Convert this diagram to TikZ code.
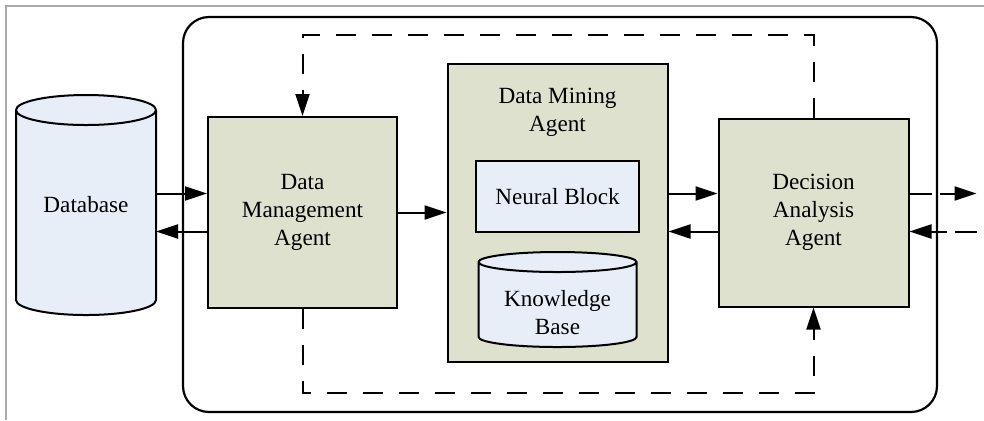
\documentclass[tikz,border=0pt]{standalone}
\usepackage{fontspec}
\setmainfont{Liberation Serif}
\usepackage{tikz}
\usetikzlibrary{arrows.meta,calc,positioning}

\definecolor{agentfill}{RGB}{221,225,205}
\definecolor{storefill}{RGB}{231,238,248}
\definecolor{framegray}{RGB}{170,170,170}

\begin{document}
\begin{tikzpicture}[%
    x=0.5pt, y=-0.5pt,
    >={Triangle[length=11pt,width=7pt]},
    node distance=127.5pt,
    on grid,
    font=\fontsize{11.6}{14}\selectfont,
    agent/.style={draw, line width=1pt, fill=agentfill, inner sep=0pt, align=center},
    block/.style={draw, line width=1pt, fill=storefill, inner sep=0pt, align=center},
    store/.style={inner sep=0pt, outer sep=-1pt, align=center,
      path picture={
        \draw[line width=1pt, fill=storefill]
          let \p1=(path picture bounding box.north west),
              \p2=(path picture bounding box.south east),
              \n1={(\x2-\x1)/2-1pt} in
          (\x1+1pt,\y1-#1-1pt) -- (\x1+1pt,\y2+#1+1pt)
          arc[start angle=180, end angle=360, x radius=\n1, y radius=#1]
          -- (\x2-1pt,\y1-#1-1pt)
          arc[start angle=0, end angle=180, x radius=\n1, y radius=#1] -- cycle
          (\x1+1pt,\y1-#1-1pt)
          arc[start angle=180, end angle=360, x radius=\n1, y radius=#1];
      }},
    flow/.style={line width=1pt},
    feedback/.style={line width=1pt, dash pattern=on 10pt off 8pt},
    outflow/.style={line width=1pt, dash pattern=on 11pt off 4pt}
  ]
    \useasboundingbox (0,0) rectangle (984,420);
    \draw[framegray, line width=1pt] (984,6) -- (6,6) -- (6,420);
    \draw[line width=1.1pt, rounded corners=13pt] (183,17) rectangle (937,412);

    \node[agent, minimum width=94.5pt, minimum height=95.5pt] (dma) at (302.5,212.5) {Data\\Management\\Agent};
    \node[agent, minimum width=110pt, minimum height=149pt, right=of dma] (dm) {};
    \node[align=center, below=9.25pt of dm.north] (dmtitle) {Data Mining\\Agent};
    \node[block, minimum width=81.5pt, minimum height=35.5pt, below=48.75pt of dm.north] (nb) {Neural Block};
    \node[store=5pt, minimum width=81pt, minimum height=49.5pt, below=51.5pt of nb] (kb) {\rule{0pt}{21.5pt}Knowledge\\Base};
    \node[agent, minimum width=95pt, minimum height=94pt, right=128pt of dm] (daa) {Decision\\Analysis\\Agent};
    \node[store=7.5pt, minimum width=72pt, minimum height=112pt, left=108.25pt of dma, yshift=3.75pt] (db) {Database};

    \coordinate (out) at ([xshift=33.5pt,yshift=9.5pt]daa.east);
    \coordinate (in) at ([xshift=33.5pt,yshift=-9.5pt]daa.east);
    \coordinate (fbtop) at (0,35);
    \coordinate (fbbot) at (0,393);

    \draw[flow, ->] ([yshift=9.5pt]dma.west -| db.east) -- ([yshift=9.5pt]dma.west);
    \draw[flow, ->] ([yshift=-9.5pt]dma.west) -- ([yshift=-9.5pt]dma.west -| db.east);
    \draw[flow, ->] (dma) -- (dm);
    \draw[flow, ->] ([yshift=9.5pt]dm.east) -- ([yshift=9.5pt]daa.west);
    \draw[flow, ->] ([yshift=-9.5pt]daa.west) -- ([yshift=-9.5pt]dm.east);
    \draw[outflow, ->] ([yshift=9.5pt]daa.east) -- (out);
    \draw[outflow, ->] (in) -- ([yshift=-9.5pt]daa.east);

    \draw[feedback, ->] (daa.north) -- (daa.north |- fbtop) -| (dma.north);
    \draw[feedback, ->] (dma.south) -- (dma.south |- fbbot) -| (daa.south);
  \end{tikzpicture}
\end{document}
